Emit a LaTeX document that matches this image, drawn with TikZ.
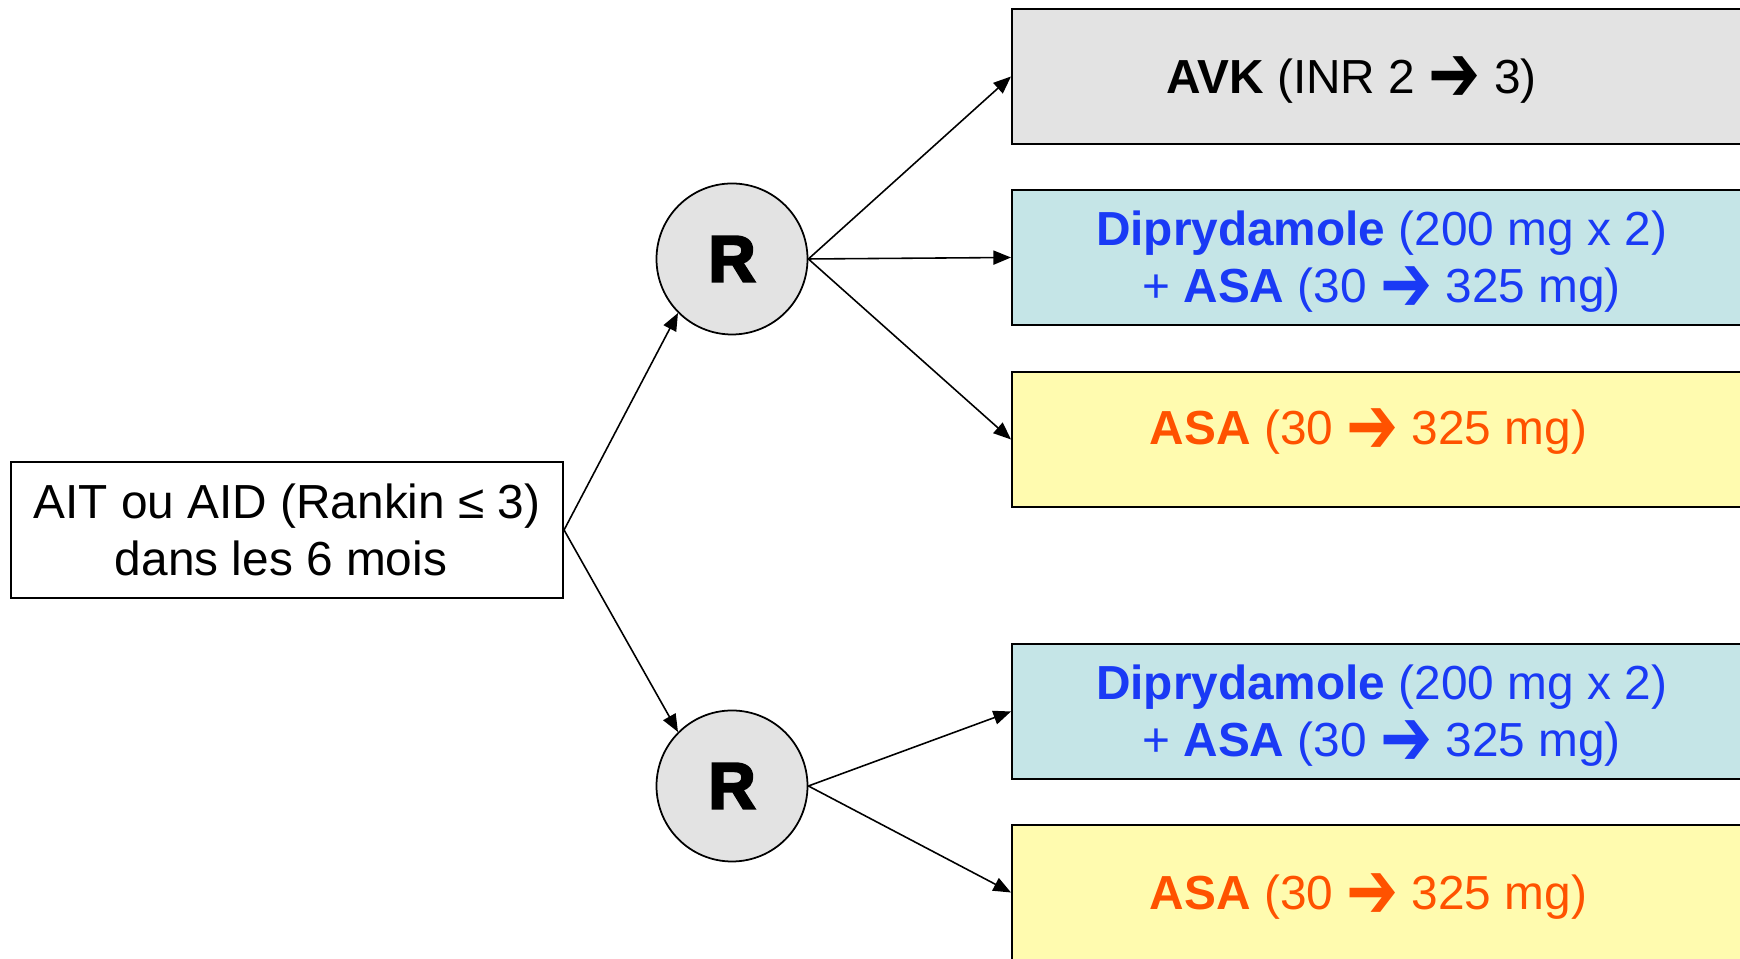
\documentclass[tikz,border=0pt]{standalone}
\usepackage{fontspec}
\usepackage{graphicx}
\setmainfont{Liberation Sans}
\newfontfamily\arrowfont{DejaVu Sans}
\newfontfamily\rfont[FakeBold=4]{Liberation Sans Bold}
\usetikzlibrary{arrows.meta}

\definecolor{boxgray}{HTML}{E3E3E3}
\definecolor{boxcyan}{HTML}{C5E5E7}
\definecolor{boxyellow}{HTML}{FFFBAF}
\definecolor{txtblue}{HTML}{1A3AF5}
\definecolor{txtorange}{HTML}{FF5200}

\newcommand{\ra}{\raisebox{-2.5pt}{\scalebox{1.3}[1.7]{\arrowfont ➔}}}
\newcommand{\shifttext}[2]{\raisebox{#1}[\height][\depth]{#2}}

\tikzset{
  every node/.style={font=\fontsize{13.6}{16.2}\selectfont},
  armbox/.style={draw, line width=0.6pt, anchor=west, minimum width=7.39cm,
    minimum height=1.35cm, align=center, inner sep=0pt},
  randnode/.style={circle, draw, line width=0.5pt, fill=boxgray,
    minimum size=1.51cm, inner sep=0pt},
  arm/.style={-{Triangle[length=5pt,width=4pt]}, line width=0.45pt},
}

\begin{document}
\begin{tikzpicture}
\useasboundingbox (0,0) rectangle (17.40,9.59);
\clip (0,0) rectangle (17.40,9.59);

% inclusion
\node[draw, line width=0.6pt, minimum width=5.52cm, minimum height=1.36cm, align=center] (start) at (2.87,4.29) {AIT ou AID (Rankin ≤ 3)\\dans les 6 mois\hspace*{0.12cm}};

% randomisations
\node[randnode] (r1) at (7.32,7.00) {\fontsize{18.5}{18}\rfont R};
\node[randnode] (r2) at (7.32,1.73) {\fontsize{18.5}{18}\rfont R};

% bras
\node[armbox, fill=boxgray] (avk) at (10.11,8.825) {\shifttext{-1pt}{\textbf{AVK} (INR 2 \ra{} 3)}\hspace*{0.6cm}};
\node[armbox, fill=boxcyan, text=txtblue] (dipa) at (10.11,7.015) {\shifttext{-1.4pt}{\begin{tabular}{@{}c@{}}\textbf{Diprydamole} (200 mg x 2)\\+ \textbf{ASA} (30 \ra{} 325 mg)\end{tabular}}};
\node[armbox, fill=boxyellow, text=txtorange] (asaa) at (10.11,5.195) {\shifttext{2.2pt}{\textbf{ASA} (30 \ra{} 325 mg)}\hspace*{0.26cm}};
\node[armbox, fill=boxcyan, text=txtblue] (dipb) at (10.11,2.475) {\shifttext{-1.4pt}{\begin{tabular}{@{}c@{}}\textbf{Diprydamole} (200 mg x 2)\\+ \textbf{ASA} (30 \ra{} 325 mg)\end{tabular}}};
\node[armbox, fill=boxyellow, text=txtorange] (asab) at (10.11,0.665) {\shifttext{-1.2pt}{\textbf{ASA} (30 \ra{} 325 mg)}\hspace*{0.26cm}};

\draw[arm] (start.east) -- (r1.south west);
\draw[arm] (start.east) -- (r2.north west);

\draw[arm] (r1.east) -- (avk.west);
\draw[arm] (r1.east) -- (dipa.west);
\draw[arm] (r1.east) -- (asaa.west);

\draw[arm] (r2.east) -- (dipb.west);
\draw[arm] (r2.east) -- (asab.west);
\end{tikzpicture}
\end{document}
